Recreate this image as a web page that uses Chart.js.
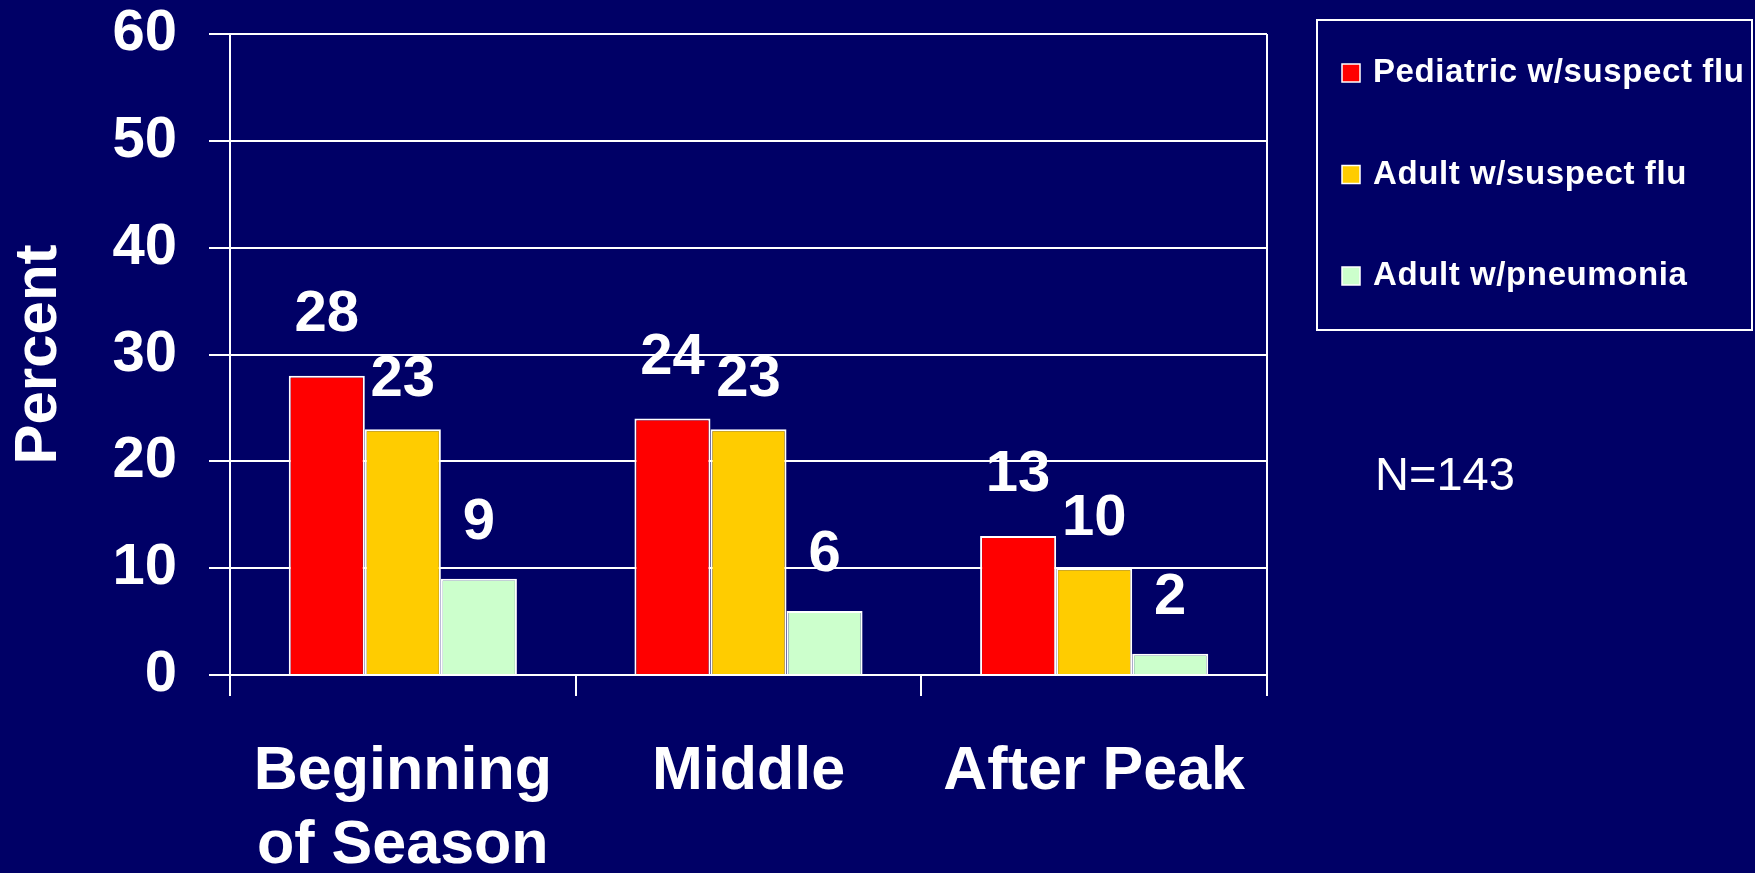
<!DOCTYPE html>
<html>
<head>
<meta charset="utf-8">
<script src="https://cdn.jsdelivr.net/npm/chart.js@4/dist/chart.umd.min.js"></script>
<style>
  html, body { margin: 0; padding: 0; background: #000066; }
  canvas { display: block; }
</style>
</head>
<body>
<canvas id="flu-chart" width="1755" height="873"></canvas>
<script>
const seasonStages = [["Beginning", "of Season"], "Middle", "After Peak"];
const seriesNames = ["Pediatric w/suspect flu", "Adult w/suspect flu", "Adult w/pneumonia"];
const pediatricFlu = [28, 24, 13];
const adultFlu = [23, 23, 10];
const adultPneumonia = [9, 6, 2];
const percentTicks = [0, 10, 20, 30, 40, 50, 60];
const sampleNote = "N=143";

const FONT = "'Liberation Sans', Arial, sans-serif";
const seriesColors = ["#ff0000", "#ffcc00", "#ccffcc"];
// how far above each bar top its value sits, per series
const labelLift = [61, 49, 56];

Chart.defaults.font.family = FONT;
Chart.defaults.color = "#fff";

// numbers above the bars, placed from the bar elements
const valueLabels = {
    id: "valueLabels",
    afterDatasetsDraw(chart) {
        const ctx = chart.ctx;
        ctx.save();
        ctx.font = `bold 58px ${FONT}`;
        ctx.fillStyle = "#fff";
        ctx.textAlign = "center";
        ctx.textBaseline = "middle";
        chart.data.datasets.forEach((ds, i) => {
            chart.getDatasetMeta(i).data.forEach((bar, j) => {
                ctx.fillText(String(ds.data[j]), bar.x, bar.y - labelLift[i]);
            });
        });
        ctx.restore();
    }
};

// framed legend on the right plus the sample size note
const boxedLegend = {
    id: "boxedLegend",
    afterDraw(chart) {
        const ctx = chart.ctx;
        ctx.save();
        ctx.strokeStyle = "#fff";
        ctx.lineWidth = 2;
        ctx.strokeRect(1317, 20, 435, 310);
        ctx.font = `bold 33px ${FONT}`;
        ctx.letterSpacing = "0.6px";
        ctx.textBaseline = "middle";
        chart.data.datasets.forEach((ds, i) => {
            const y = 73 + i * 101.5;
            ctx.fillStyle = ds.backgroundColor;
            ctx.fillRect(1342, y - 9, 18, 18);
            ctx.lineWidth = 1.5;
            ctx.strokeRect(1342, y - 9, 18, 18);
            ctx.fillStyle = "#fff";
            ctx.fillText(ds.label, 1373, y);
        });
        ctx.letterSpacing = "0px";
        ctx.font = `47px ${FONT}`;
        ctx.fillText(sampleNote, 1375, 477);
        ctx.restore();
    }
};

const series = [pediatricFlu, adultFlu, adultPneumonia];

new Chart(document.getElementById("flu-chart"), {
    type: "bar",
    data: {
        labels: seasonStages,
        datasets: series.map((values, i) => ({
            label: seriesNames[i],
            data: values,
            backgroundColor: seriesColors[i],
            borderColor: "#fff",
            borderWidth: 2,
            categoryPercentage: 0.66,
            barPercentage: 1
        }))
    },
    options: {
        responsive: false,
        animation: false,
        events: [],
        layout: { padding: { top: 34, left: 0, right: 488, bottom: 0 } },
        plugins: { legend: { display: false }, tooltip: { enabled: false } },
        scales: {
            x: {
                grid: {
                    offset: true,
                    color: c => (c.tick === undefined || c.index === 0) ? "#fff" : "rgba(0,0,0,0)",
                    tickColor: "#fff",
                    tickLength: 21,
                    lineWidth: 2
                },
                border: { display: false },
                ticks: {
                    color: "#fff",
                    font: { size: 61, weight: "bold", lineHeight: 1.22 },
                    padding: 39,
                    maxRotation: 0,
                    autoSkip: false
                },
                afterFit: s => { s.height = 198; }
            },
            y: {
                min: 0,
                max: 60,
                afterBuildTicks: s => { s.ticks = percentTicks.map(value => ({ value })); },
                grid: { color: "#fff", lineWidth: 2, tickLength: 21 },
                border: { display: false },
                ticks: { color: "#fff", font: { size: 58, weight: "bold" }, padding: 32 },
                title: {
                    display: true,
                    text: "Percent",
                    color: "#fff",
                    font: { size: 60, weight: "bold" },
                    padding: { top: 3, bottom: 0 }
                },
                afterFit: s => {
                    s.width = 230;
                    // top tick label may overhang the padding
                    s.paddingTop = 0;
                    s.paddingBottom = 0;
                }
            }
        }
    },
    plugins: [valueLabels, boxedLegend]
});
</script>
</body>
</html>
